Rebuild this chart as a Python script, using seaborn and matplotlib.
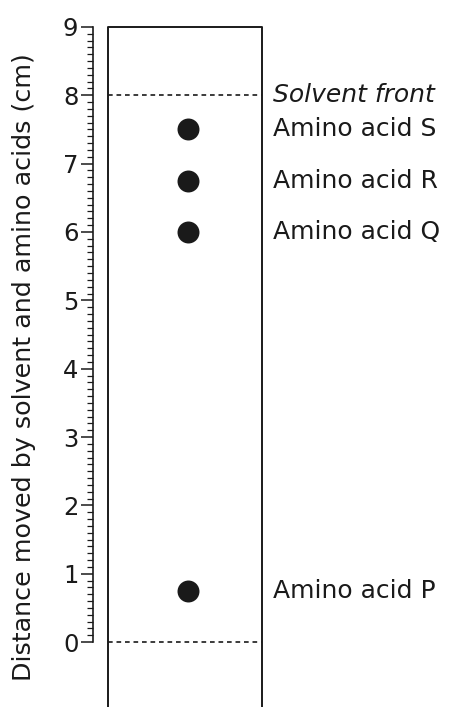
import numpy as np
import pandas as pd
import matplotlib
matplotlib.use("Agg")
import matplotlib.pyplot as plt
import seaborn as sns
from matplotlib.ticker import FixedLocator

# data
amino_acids = ["Amino acid P", "Amino acid Q", "Amino acid R", "Amino acid S"]
distances = [0.75, 6.0, 6.75, 7.5]
solvent_front = 8.0
origin_line = 0.0
front_label = "Solvent front"
y_ticks = list(range(0, 10))
y_label = "Distance moved by solvent and amino acids (cm)"

sns.set_theme(style="white")
plt.rcParams['font.family'] = ['DejaVu Sans']

df = pd.DataFrame({'name': amino_acids, 'dist': distances})
strip_left, strip_right = 0.42, 4.72
spot_x = 2.65
df['x'] = spot_x

fig = plt.figure(figsize=(4.51, 7.07), dpi=100)
ax = fig.add_axes([93 / 451, 0, 358 / 451, 1])
ax.set_xlim(0, 10)
ax.set_ylim(-0.951, 9.395)

# paper strip
ink = '#1a1a1a'
ax.plot([strip_left, strip_left], [-2, 9], color=ink, lw=1.4, solid_capstyle='butt')
ax.plot([strip_right, strip_right], [-2, 9], color=ink, lw=1.4, solid_capstyle='butt')
ax.plot([strip_left, strip_right], [9, 9], color=ink, lw=1.4)

# origin and solvent front
for yv in [origin_line, solvent_front]:
    ax.plot([strip_left, strip_right], [yv, yv], color=ink, lw=1.2,
            linestyle=(0, (2.8, 2.3)))

sns.scatterplot(data=df, x='x', y='dist', ax=ax, s=250, color=ink,
                edgecolor=ink, linewidth=0, legend=False, zorder=3)

label_x = 5.02
for name, d in zip(amino_acids, distances):
    ax.text(label_x, d, name, fontsize=18, va='center', ha='left', color=ink)
ax.text(label_x, solvent_front, front_label, fontsize=18, va='center', ha='left',
        style='italic', color=ink)

# ruler axis
for s in ['top', 'right', 'bottom']:
    ax.spines[s].set_visible(False)
ax.spines['left'].set_bounds(0, 9)
ax.spines['left'].set_color(ink)
ax.spines['left'].set_linewidth(1.2)
ax.set_yticks(y_ticks)
ax.yaxis.set_minor_locator(FixedLocator(np.linspace(0, 9, 91)))
ax.tick_params(axis='y', which='major', left=True, length=8.5, width=1.1,
               direction='out', color=ink, labelsize=17.5, pad=2.0, labelcolor=ink)
ax.tick_params(axis='y', which='minor', left=True, length=4.5, width=0.9,
               direction='out', color=ink)
ax.set_xticks([])
ax.set_xlabel('')
ax.set_ylabel('')
fig.text(24 / 451, 1 - 367 / 707, y_label, rotation=90, ha='center', va='center',
         fontsize=18.3, color=ink)

fig.savefig('out.png', dpi=100)
